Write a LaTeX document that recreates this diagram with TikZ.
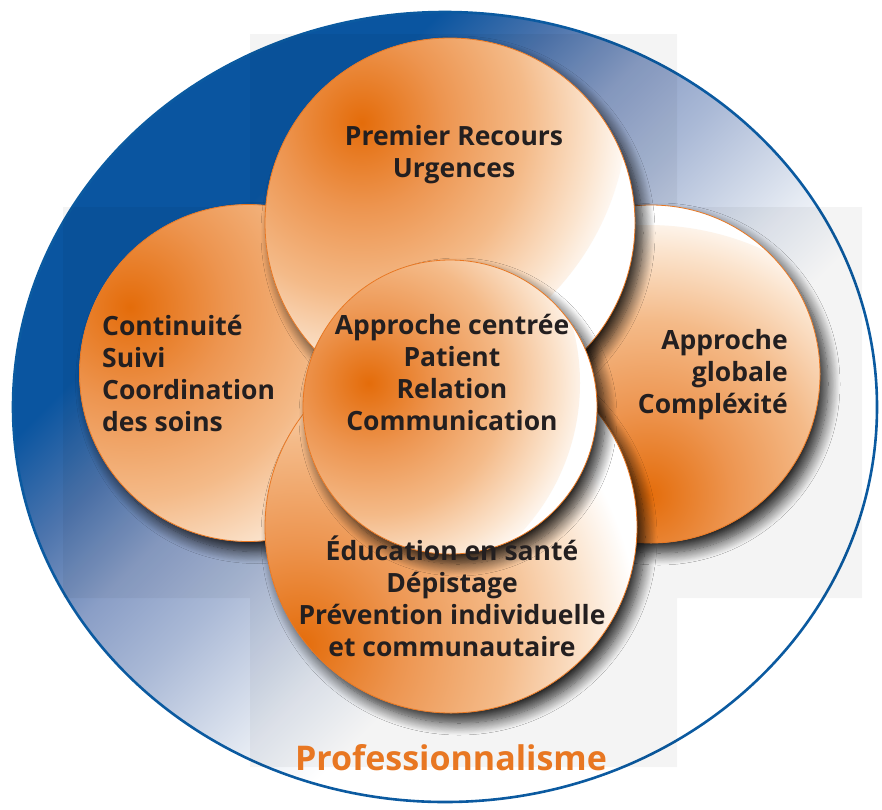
\documentclass[tikz,border=0pt]{standalone}
\usepackage{fontspec}
\setmainfont{Open Sans}
\usetikzlibrary{shadows.blur}

\definecolor{ringline}{HTML}{0B5AA0}
\definecolor{ringA}{HTML}{0A55A0}
\definecolor{ringB}{HTML}{4E75AD}
\definecolor{ringC}{HTML}{8A9EC6}
\definecolor{ringD}{HTML}{AAB9D6}
\definecolor{ringE}{HTML}{E6EBF3}
\definecolor{orDark}{HTML}{E46C0A}
\definecolor{orMid}{HTML}{ED9550}
\definecolor{orLight}{HTML}{F4BA88}
\definecolor{orPale}{HTML}{FBE3CC}
\definecolor{orLine}{HTML}{E87722}
\definecolor{ink}{HTML}{231F20}

%orange glow inside the discs, blue fade of the ring (path edge sits at 25bp / 75bp)
\pgfdeclareradialshading{glow}{\pgfpointorigin}{color(0bp)=(orDark); color(7.5bp)=(orMid); color(15bp)=(orLight); color(21bp)=(orPale); color(25bp)=(white); color(50bp)=(white)}
\pgfdeclarehorizontalshading{ringfade}{100bp}{color(0bp)=(ringA); color(34.2bp)=(ringA); color(39.3bp)=(ringB); color(44bp)=(ringC); color(48.7bp)=(ringD); color(55.8bp)=(ringE); color(59.7bp)=(white); color(100bp)=(white)}

\tikzset{
  disc/.style n args={3}{circle, minimum size=#1, inner sep=0pt, draw=orLine, line width=0.8pt, fill=white,
    blur shadow={shadow xshift=8pt, shadow yshift=-10pt, shadow blur radius=12pt, shadow blur steps=14, shadow opacity=85},
    path picture={\shade[shading=glow] ([shift={(#2)}]path picture bounding box.center) circle (#3);}},
  disctext/.style={text=ink, inner sep=0pt, font=\bfseries\fontsize{26.5}{32}\selectfont},
}

\begin{document}
\begin{tikzpicture}[x=1pt, y=-1pt]   %image coordinates, y going down
    \useasboundingbox (0,0) rectangle (882,809);

    %RING
    \draw[ringline, line width=2.6pt,
        path picture={\shade[shading=ringfade, shading angle=-45]
            ([shift={(-450pt,-450pt)}]path picture bounding box.center) rectangle ++(900pt,900pt);}]
        (445,407) ellipse [x radius=432, y radius=395];
    \fill[black, opacity=0.045] (250,34) rectangle (677,767) (63,207) rectangle (862,598);	%grey panels behind

    %DISCS (back to front)
    \node[disc={337pt}{-118pt,66pt}{320pt}] (suivi) at (248,373) {};
    \node[disc={338pt}{-3pt,-131pt}{280pt}] (globale) at (651,374) {};
    \node[disc={370pt}{-92pt,116pt}{270pt}] (recours) at (450,223) {};
    \node[disc={372pt}{-151pt,-118pt}{340pt}] (prevention) at (451,527) {};
    \node[disc={294pt}{-90pt,24pt}{220pt}] (patient) at (450,407) {};

    %TEXTS
    \node[disctext, align=center] (recourstxt) at (454,155) {Premier Recours\\Urgences};
    \node[disctext, align=left, anchor=west] (suivitxt) at (102,373) {Continuité\\Suivi\\Coordination\\des soins};
    \node[disctext, align=right, anchor=east] (globaletxt) at (788,375) {Approche\\globale\\Compléxité};
    \node[disctext, align=center] (patienttxt) at (452,372) {Approche centrée\\Patient\\Relation\\Communication};
    \node[disctext, align=center] (preventiontxt) at (452,596) {Éducation en santé\\Dépistage\\Prévention individuelle\\et communautaire};
    \node[text=orLine, font=\bfseries\fontsize{34}{40}\selectfont] (pro) at (451,758) {Professionnalisme};
\end{tikzpicture}
\end{document}
